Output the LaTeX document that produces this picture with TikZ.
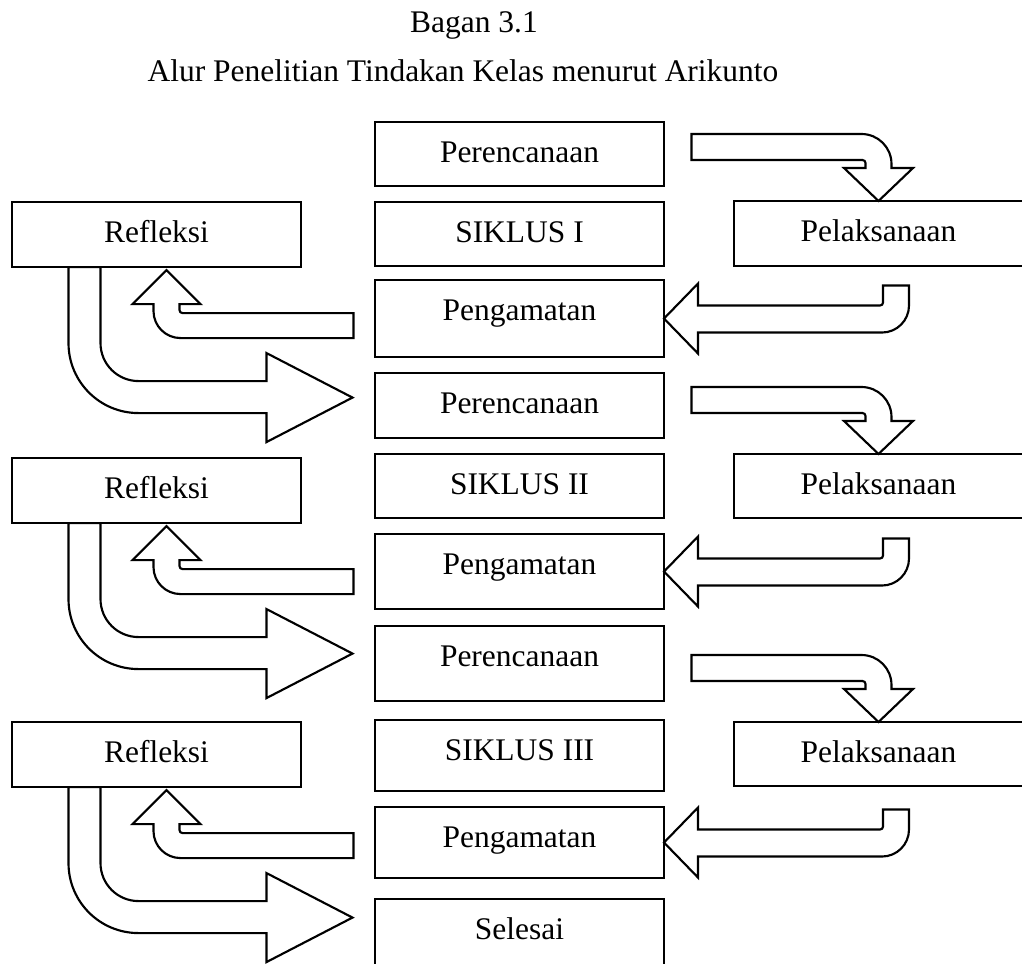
\documentclass[tikz,border=0pt]{standalone}
\usepackage{fontspec}
\setmainfont{Liberation Serif}
\usetikzlibrary{calc}
\tikzset{
	kotak/.style={draw, line width=1.8pt, anchor=north west, outer sep=0pt, inner xsep=0pt, inner ysep=0pt, minimum width=216.75pt, text height=30.4pt, text depth=#1},
	kotak/.default=18pt,
	blok/.style={draw, fill=white, line width=1.6pt}
}
\begin{document}
\begin{tikzpicture}[x=0.75pt, y=-0.75pt, every node/.style={font=\fontsize{23.6}{28}\selectfont}]
		\useasboundingbox (0,0) rectangle (1022,964);

		\node[anchor=base] (judul) at (474,32) {Bagan 3.1};
		\node[anchor=base] (subjudul) at (463,81) {Alur Penelitian Tindakan Kelas menurut Arikunto};

		\node[kotak=17.6pt] (per1) at (375,122) {Perencanaan};
		\node[kotak=18.4pt] (ref1) at (12,202) {Refleksi};
		\node[kotak=17.6pt] (sik1) at (375,202) {SIKLUS I};
		\node[kotak=18.4pt] (pel1) at (734,201) {Pelaksanaan};
		\node[kotak=27.4pt] (pen1) at (375,280) {Pengamatan};

		\node[kotak=18.4pt] (per2) at (375,373) {Perencanaan};
		\node[kotak=18.4pt] (ref2) at (12,458) {Refleksi};
		\node[kotak=17.6pt] (sik2) at (375,454) {SIKLUS II};
		\node[kotak=17.6pt] (pel2) at (734,454) {Pelaksanaan};
		\node[kotak=25.9pt] (pen2) at (375,534) {Pengamatan};

		\node[kotak=25.9pt] (per3) at (375,626) {Perencanaan};
		\node[kotak=18.4pt] (ref3) at (12,722) {Refleksi};
		\node[kotak=22.9pt] (sik3) at (375,720) {SIKLUS III};
		\node[kotak=17.6pt] (pel3) at (734,722) {Pelaksanaan};
		\node[kotak=22.9pt] (pen3) at (375,807) {Pengamatan};

		\node[kotak=29.6pt] (selesai) at (375,899) {Selesai};

		\foreach \i in {1,2,3}
		{
			\begin{scope}[shift={(pel\i.north)}]
				\draw[blok] (-187,-67) -- (-17,-67) .. controls (-0.4,-67) and (13,-53.6) .. (13,-37) -- (13,-33) -- (34.5,-33) -- (0,0) -- (-34.5,-33) -- (-13,-33) -- (-13,-38) .. controls (-13,-39.7) and (-14.3,-41) .. (-16,-41) -- (-187,-41) -- cycle;
			\end{scope}
			\begin{scope}[shift={(pen\i.east)}]
				\draw[blok] (0,0) -- (34,-35) -- (34,-13) -- (216,-13) .. controls (217.7,-13) and (219,-14.3) .. (219,-16) -- (219,-33) -- (245,-33) -- (245,-13) .. controls (245,1.9) and (232.9,14) .. (218,14) -- (34,14) -- (34,35) -- cycle;
			\end{scope}
			\begin{scope}[shift={($(ref\i.south)+(10,3)$)}]
				\draw[blok] (0,0) -- (34,34) -- (13,34) -- (13,40) .. controls (13,41.7) and (14.3,43) .. (16,43) -- (187,43) -- (187,68) -- (14,68) .. controls (-0.9,68) and (-13,55.9) .. (-13,41) -- (-13,34) -- (-34,34) -- cycle;
			\end{scope}
			\begin{scope}[shift={(ref\i.south)}]
				\draw[blok] (-88,0) -- (-56,0) -- (-56,76) .. controls (-56,97) and (-39,114) .. (-18,114) -- (110,114) -- (110,86) -- (196,130.5) -- (110,175) -- (110,146) -- (-18,146) .. controls (-56.7,146) and (-88,114.7) .. (-88,76) -- cycle;
			\end{scope}
		}
	\end{tikzpicture}
\end{document}
